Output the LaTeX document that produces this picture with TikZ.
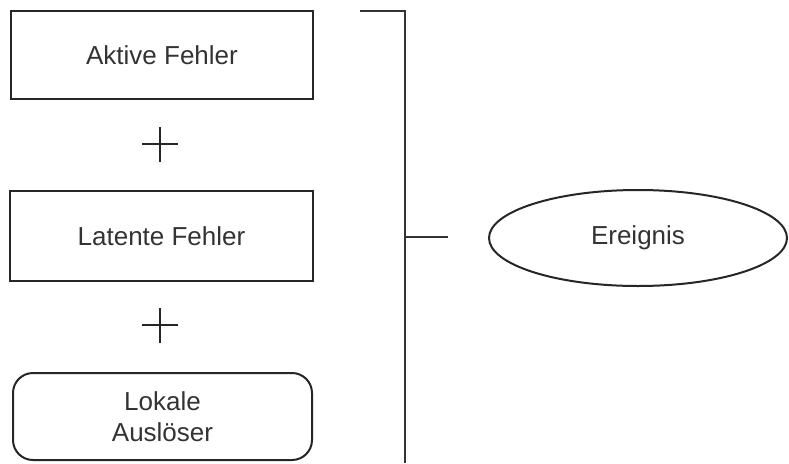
\documentclass[tikz,border=0pt]{standalone}
\usepackage{fontspec}
\setmainfont{Liberation Sans}
\usetikzlibrary{shapes.geometric}
\begin{document}
\begin{tikzpicture}[x=1pt,y=-1pt,
  box/.style={draw=black!85, line width=2pt, minimum width=302pt, minimum height=88pt, inner sep=0pt, font=\fontsize{26}{31}\selectfont, text=black!80},
  roundbox/.style={box, rounded corners=20pt, align=center},
  event/.style={draw=black!85, line width=2pt, ellipse, minimum width=298pt, minimum height=96pt, inner sep=0pt, font=\fontsize{26}{31}\selectfont, text=black!80},
  bracket/.style={draw=black!80, line width=1.2pt},
  plus/.style={draw=black!85, line width=2.2pt}]
\useasboundingbox (0,0) rectangle (789,463);
\node[box] (aktive) at (162,55) {Aktive Fehler};
\node[box, minimum height=90pt, minimum width=303pt] (latente) at (161.5,236) {Latente Fehler};
\node[roundbox, minimum width=299pt, minimum height=87pt] (lokale) at (162.5,416.5) {Lokale\\Auslöser};
\node[event] (ereignis) at (638,238) {Ereignis};
% plus signs
\coordinate (p1) at (160,144);
\coordinate (p2) at (160,325);
\draw[plus] ([xshift=-18pt]p1) -- ([xshift=18pt]p1) ([yshift=-17.5pt]p1) -- ([yshift=17.5pt]p1);
\draw[plus] ([xshift=-18pt]p2) -- ([xshift=18pt]p2) ([yshift=-17.5pt]p2) -- ([yshift=17.5pt]p2);
% bracket
\coordinate (btl) at (360,11);
\coordinate (btr) at (405,11);
\coordinate (bbot) at (405,463);
\coordinate (bmid) at (405,237);
\coordinate (tick) at (448,237);
\draw[bracket] (btl) -- (btr) -- (bbot);
\draw[bracket] (bmid) -- (tick);
\end{tikzpicture}
\end{document}
